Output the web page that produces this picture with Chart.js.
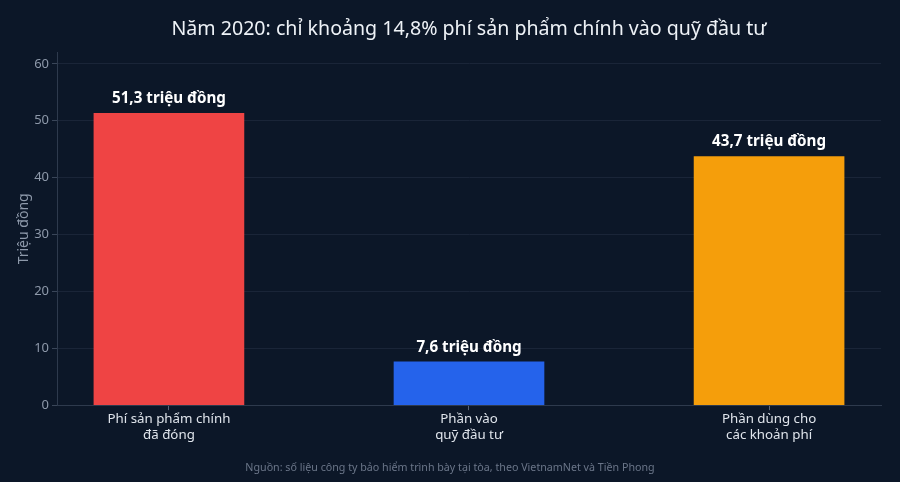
<!DOCTYPE html>
<html lang="vi">
<head>
    <meta charset="UTF-8">
    <title>Năm 2020: phí sản phẩm chính</title>
    <style>
      html, body { margin: 0; padding: 0; background: #0c1728; }
      .chart-container { position: relative; width: 900px; height: 482px; }
    </style>
</head>
<body>
    <div class="chart-container">
      <canvas id="myChart"></canvas>
    </div>

    <script src="https://cdn.jsdelivr.net/npm/chart.js"></script>
    <script>
      // data
      var categories = [
          ['Phí sản phẩm chính', 'đã đóng'],
          ['Phần vào', 'quỹ đầu tư'],
          ['Phần dùng cho', 'các khoản phí']
      ];
      var values = [51.3, 7.6, 43.7];
      var valueLabels = ['51,3 triệu đồng', '7,6 triệu đồng', '43,7 triệu đồng'];
      var yTicks = [0, 10, 20, 30, 40, 50, 60];
      var barColors = ['#ef4444', '#2563eb', '#f59e0b'];

      var font = '"Noto Sans", "DejaVu Sans", sans-serif';

      // draw the value text above each bar
      var barLabels = {
        id: 'barLabels',
        afterDatasetsDraw: function (chart) {
          var ctx = chart.ctx;
          var meta = chart.getDatasetMeta(0);
          ctx.save();
          ctx.font = 'bold 15.2px ' + font;
          ctx.fillStyle = '#ffffff';
          ctx.textAlign = 'center';
          ctx.textBaseline = 'bottom';
          meta.data.forEach(function (bar, i) {
            ctx.fillText(valueLabels[i], bar.x, bar.y - 7);
          });
          ctx.restore();
        }
      };

      function createChart() {
        var ctx = document.getElementById('myChart').getContext('2d');
        new Chart(ctx, {
          type: 'bar',
          data: {
            datasets: [{
              data: values.map(function (v, i) { return { x: i, y: v }; }),
              backgroundColor: barColors,
              borderWidth: 0,
              barThickness: 150
            }]
          },
          options: {
            responsive: true,
            maintainAspectRatio: false,
            animation: false,
            layout: { padding: 0 },
            plugins: {
              legend: { display: false },
              tooltip: { enabled: false },
              title: {
                display: true,
                fullSize: false,
                text: 'Năm 2020: chỉ khoảng 14,8% phí sản phẩm chính vào quỹ đầu tư',
                color: '#eef2f7',
                font: { family: font, size: 19.6, weight: 'normal' },
                padding: { top: 18, bottom: 11 }
              },
              subtitle: {
                display: true,
                position: 'bottom',
                text: 'Nguồn: số liệu công ty bảo hiểm trình bày tại tòa, theo VietnamNet và Tiền Phong',
                color: '#6b7689',
                font: { family: font, size: 10.7 },
                padding: { top: 8, bottom: 8 }
              }
            },
            scales: {
              x: {
                type: 'linear',
                min: -0.373,
                max: 2.373,
                offset: false,
                afterBuildTicks: function (scale) {
                  scale.ticks = categories.map(function (c, i) { return { value: i }; });
                },
                afterFit: function (scale) { scale.height = 48; },
                ticks: {
                  color: '#dfe4eb',
                  font: { family: font, size: 13.3, lineHeight: 1.22 },
                  padding: 1,
                  maxRotation: 0,
                  callback: function (v) { return categories[v]; }
                },
                grid: {
                  offset: false,
                  drawOnChartArea: false,
                  tickLength: 5,
                  tickColor: '#5a6578'
                },
                border: { color: '#2e3a4d' }
              },
              y: {
                min: 0,
                max: 62,
                afterBuildTicks: function (scale) {
                  scale.ticks = yTicks.map(function (v) { return { value: v }; });
                },
                afterFit: function (scale) { scale.width = 57; },
                ticks: {
                  color: '#8e99aa',
                  font: { family: font, size: 13 },
                  padding: 3
                },
                grid: {
                  color: '#1a2538',
                  tickLength: 5,
                  tickColor: '#3a4659'
                },
                border: { color: '#2e3a4d' },
                title: {
                  display: true,
                  text: 'Triệu đồng',
                  color: '#8e99aa',
                  font: { family: font, size: 14 },
                  padding: { top: 16, bottom: 0 }
                }
              },
              // empty right margin so the plot ends where the reference does
              yRight: {
                position: 'right',
                min: 0,
                max: 62,
                afterFit: function (scale) { scale.width = 19; },
                ticks: { display: false },
                grid: { display: false },
                border: { display: false }
              }
            }
          },
          plugins: [barLabels]
        });
      }

      createChart();
    </script>
</body>
</html>
